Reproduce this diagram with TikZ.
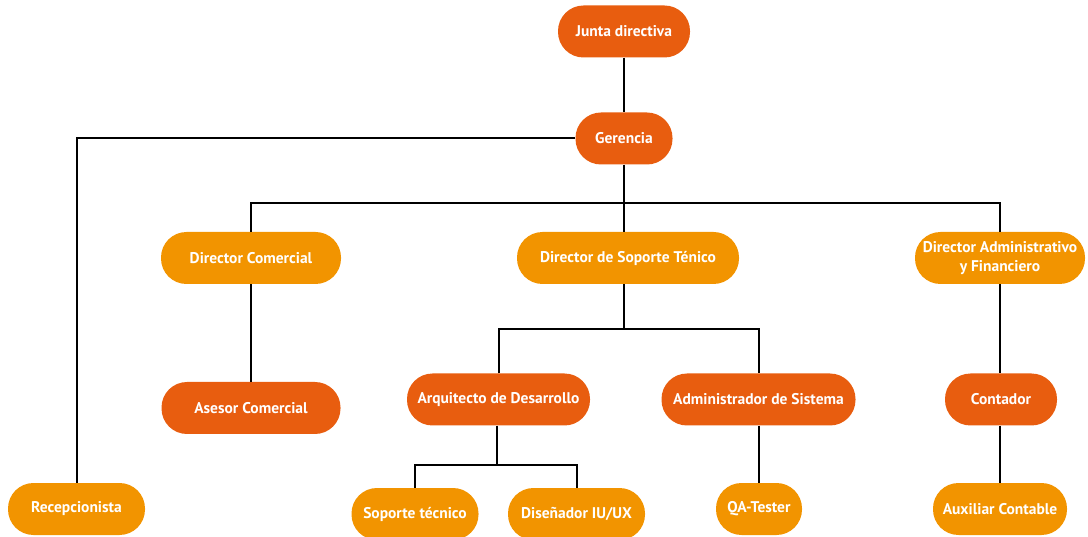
\documentclass[tikz,border=0pt]{standalone}
\usepackage{fontspec}
\setmainfont{PT Sans}
\definecolor{dark}{HTML}{E85D0F}
\definecolor{light}{HTML}{F29400}
\tikzset{
  box/.style={rounded corners=25.5pt, minimum height=52pt, inner sep=0pt, text=white,
    font=\bfseries\fontsize{15.5}{19}\selectfont, align=center},
  darkbox/.style={box, fill=dark},
  lightbox/.style={box, fill=light},
  conn/.style={draw=black, line width=2pt}
}
\begin{document}
\begin{tikzpicture}[x=1pt,y=-1pt]
\useasboundingbox (0,0) rectangle (1088,537);
\clip (0,0) rectangle (1088,537);
% nodes
\node[darkbox, minimum width=132pt] (junta) at (624,31.5) {Junta directiva};
\node[darkbox, minimum width=97pt] (ger) at (624,138.5) {Gerencia};
\node[lightbox, minimum width=180pt] (dc) at (251,258) {Director Comercial};
\node[lightbox, minimum width=222pt] (dst) at (628,258) {Director de Soporte Ténico};
\node[lightbox, minimum width=170pt] (daf) at (1000,258) {Director Administrativo\\y Financiero};
\node[darkbox, minimum width=179pt] (ac) at (251,408) {Asesor Comercial};
\node[darkbox, minimum width=183pt] (arq) at (498.5,399.5) {Arquitecto de Desarrollo};
\node[darkbox, minimum width=194pt] (adm) at (758.5,399.5) {Administrador de Sistema};
\node[darkbox, minimum width=112pt] (cont) at (1001,399.5) {Contador};
\node[lightbox, minimum width=137pt] (rec) at (76.5,509) {Recepcionista};
\node[lightbox, minimum width=127pt] (sop) at (415,514) {Soporte técnico};
\node[lightbox, minimum width=137pt] (dis) at (576.5,514) {Diseñador IU/UX};
\node[lightbox, minimum width=86pt] (qa) at (759,509) {QA-Tester};
\node[lightbox, minimum width=134pt] (aux) at (1000,509) {Auxiliar Contable};
% bus coordinates
\coordinate (bus1) at (624,203);
\coordinate (bus2) at (624,329);
\coordinate (bus3) at (497,465);
% connectors
\draw[conn] (junta.south -| ger.south) -- (ger.north);
\draw[conn] (ger.west) -| (rec.north);
\draw[conn] (ger.south) -- (bus1);
\draw[conn] (dc.north) |- (bus1) -| (daf.north);
\draw[conn] (bus1) -- (bus1 |- dst.north);
\draw[conn] (bus1 |- dst.south) -- (bus2);
\draw[conn] (arq.north) |- (bus2) -| (adm.north);
\draw[conn] (dc.south) -- (ac.north);
\draw[conn] (arq.south -| bus3) -- (bus3);
\draw[conn] (sop.north) |- (bus3) -| (dis.north);
\draw[conn] (adm.south) -- (qa.north -| adm.south);
\draw[conn] (daf.south) -- (cont.north -| daf.south);
\draw[conn] (cont.south -| daf.south) -- (aux.north -| daf.south);
\end{tikzpicture}
\end{document}
